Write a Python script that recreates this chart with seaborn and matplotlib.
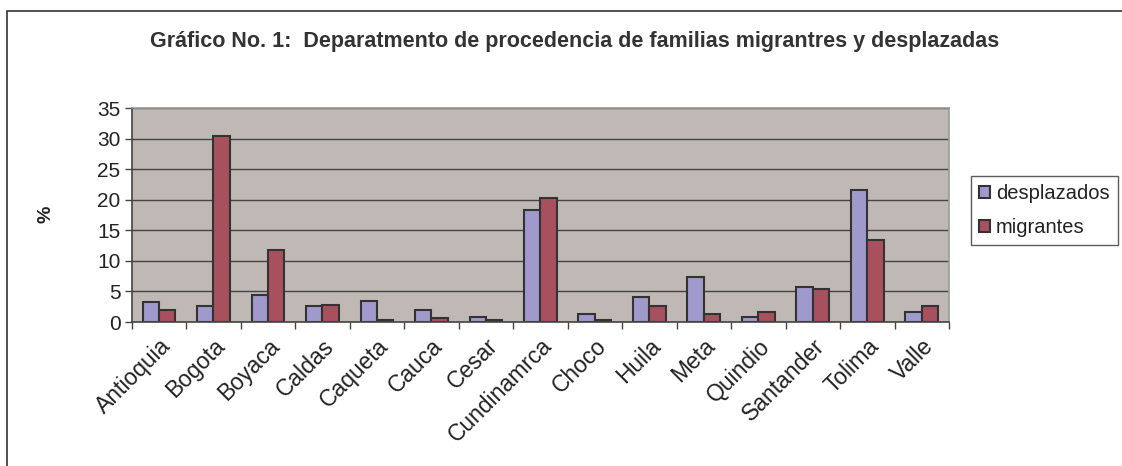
import matplotlib
matplotlib.use("Agg")
import matplotlib.pyplot as plt
import seaborn as sns
import pandas as pd
from matplotlib.patches import Rectangle
from matplotlib.ticker import FixedLocator, NullFormatter

categories = ["Antioquia", "Bogota", "Boyaca", "Caldas", "Caqueta", "Cauca", "Cesar",
              "Cundinamrca", "Choco", "Huila", "Meta", "Quindio", "Santander", "Tolima", "Valle"]
desplazados = [3.2, 2.6, 4.4, 2.6, 3.4, 1.9, 0.9, 18.4, 1.25, 4.1, 7.3, 0.9, 5.7, 21.6, 1.6]
migrantes = [1.9, 30.5, 11.8, 2.85, 0.3, 0.65, 0.3, 20.3, 0.3, 2.56, 1.25, 1.6, 5.4, 13.4, 2.56]
series_names = ["desplazados", "migrantes"]
title = "Gráfico No. 1:  Deparatmento de procedencia de familias migrantres y desplazadas"
yticks = [0, 5, 10, 15, 20, 25, 30, 35]

df = pd.DataFrame({
    "dep": categories * 2,
    "serie": [series_names[0]] * len(categories) + [series_names[1]] * len(categories),
    "val": desplazados + migrantes,
})

sns.set_theme(style="white")
plt.rcParams["font.family"] = ["Liberation Sans", "DejaVu Sans"]

fig = plt.figure(figsize=(11.22, 4.66), dpi=100)
ax = fig.add_axes([0.1174, 0.309, 0.7284, 0.459])
ax.set_facecolor("#C0B8B5")

sns.barplot(data=df, x="dep", y="val", hue="serie", ax=ax,
            palette=["#9F9ACB", "#A8505E"], width=0.6, saturation=1,
            edgecolor="#333333", linewidth=1.5, legend=True)

ax.set_ylim(0, 35)
ax.set_xlim(-0.5, len(categories) - 0.5)
ax.set_yticks(yticks)
ax.yaxis.grid(True, color="#444444", linewidth=1.0)
ax.set_axisbelow(True)
ax.set_xlabel("")
ax.set_ylabel("%", fontsize=14, fontweight="bold", color="#222222")
ax.yaxis.set_label_coords(-0.094, 0.505)

ax.tick_params(axis="y", labelsize=15, length=5, width=1, color="#444444",
               labelcolor="#222222", direction="out", left=True, pad=3)
ax.set_xticks(range(len(categories)))
ax.set_xticklabels(categories, rotation=45, ha="right", rotation_mode="anchor",
                   fontsize=16.5, color="#222222")
ax.tick_params(axis="x", which="major", length=0, pad=9)
ax.xaxis.set_minor_locator(FixedLocator([i - 0.5 for i in range(len(categories) + 1)]))
ax.xaxis.set_minor_formatter(NullFormatter())
ax.tick_params(axis="x", which="minor", length=5, width=1, color="#444444",
               bottom=True, direction="out")

for side in ["left", "bottom"]:
    ax.spines[side].set_color("#444444")
    ax.spines[side].set_linewidth(1.2)
for side in ["top", "right"]:
    ax.spines[side].set_color("#999999")
    ax.spines[side].set_linewidth(1.2)

handles, labels = ax.get_legend_handles_labels()
ax.legend_.remove()
leg = fig.legend(handles, labels, loc="upper left",
                 bbox_to_anchor=(971 / 1122, (466 - 176) / 466),
                 fontsize=14.5, frameon=True, fancybox=False, edgecolor="#333333",
                 handlelength=0.55, handleheight=0.55, handletextpad=0.3,
                 labelspacing=0.75, borderpad=0.4, borderaxespad=0)
leg.get_frame().set_linewidth(1.0)
for t in leg.get_texts():
    t.set_color("#222222")

fig.text(575 / 1122, (466 - 42) / 466, title, ha="center", va="center",
         fontsize=15.5, fontweight="bold", color="#333333")

fig.patches.append(Rectangle((7 / 1122, -0.1), 1.2, (466 - 11) / 466 + 0.1,
                             transform=fig.transFigure, fill=False,
                             edgecolor="#333333", linewidth=1.2))

fig.savefig("out.png", dpi=100, facecolor="white")
